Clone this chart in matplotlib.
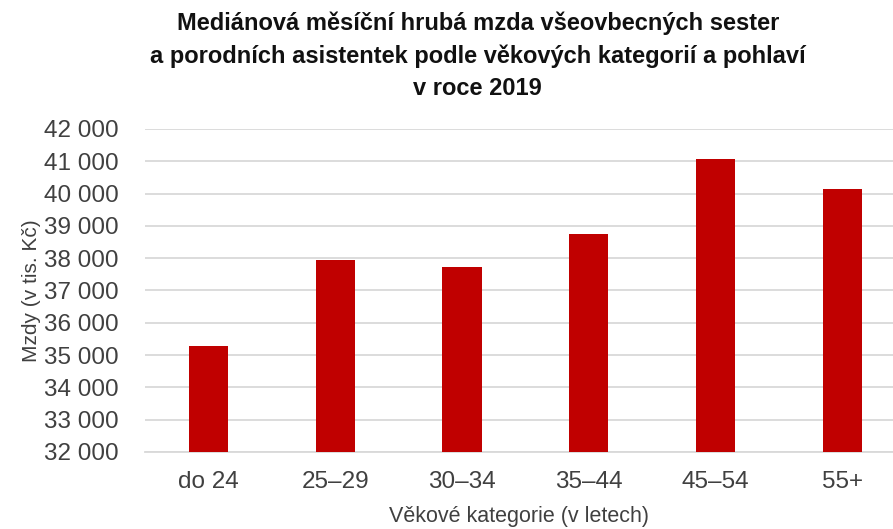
import matplotlib.pyplot as plt
from matplotlib.ticker import FuncFormatter

plt.rcParams['font.family'] = ['Liberation Sans', 'DejaVu Sans']

categories = ["do 24", "25–29", "30–34", "35–44", "45–54", "55+"]
wages = [35280, 37950, 37730, 38750, 41070, 40130]

title = ("Mediánová měsíční hrubá mzda všeovbecných sester\n"
         "a porodních asistentek podle věkových kategorií a pohlaví\n"
         "v roce 2019")

fig = plt.figure(figsize=(8.93, 5.29), dpi=100)
ax = fig.add_axes([0.1624, 0.1456, 0.8376, 0.6106])

x = range(len(categories))
ax.bar(x, wages, width=0.31, color="#C00000", zorder=3)

ax.set_ylim(32000, 42000)
ax.set_yticks(range(32000, 42001, 1000))
ax.yaxis.set_major_formatter(FuncFormatter(lambda v, p: f"{int(v):,}".replace(",", " ")))
ax.set_xlim(-0.5, 5.4)
ax.set_xticks(list(x))
ax.set_xticklabels(categories)

ax.grid(axis="y", color="#D9D9D9", linewidth=1.3, zorder=0)
for s in ["top", "right", "left"]:
    ax.spines[s].set_visible(False)
ax.spines["bottom"].set_color("#D9D9D9")
ax.spines["bottom"].set_linewidth(1.3)
ax.tick_params(length=0, labelsize=17.5, labelcolor="#404040")
ax.tick_params(axis="y", pad=19)
ax.tick_params(axis="x", pad=14)

ax.set_ylabel("Mzdy (v tis. Kč)", fontsize=15, color="#404040", labelpad=2)
ax.set_xlabel("Věkové kategorie (v letech)", fontsize=15.5, color="#404040", labelpad=9)

fig.text(0.535, 0.978, title, ha="center", va="top", fontsize=17,
         fontweight="bold", color="#111111", linespacing=1.5)

fig.savefig("out.png", dpi=100)
